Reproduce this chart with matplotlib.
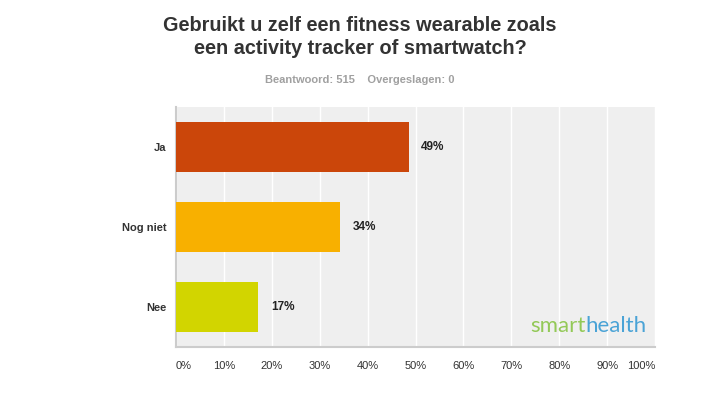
import matplotlib.pyplot as plt

# survey answers and share of respondents (%)
categories = ['Ja', 'Nog niet', 'Nee']
values = [48.6, 34.2, 17.2]
colors = ['#cb460a', '#f8b000', '#d2d500']
tick_vals = [0, 10, 20, 30, 40, 50, 60, 70, 80, 90, 100]
tick_labels = ['%d%%' % t for t in tick_vals]

plt.rcParams['font.family'] = ['Liberation Sans', 'DejaVu Sans']

fig = plt.figure(figsize=(7.2, 3.94), dpi=100)
ax = fig.add_axes([176 / 720, 47 / 394, 479 / 720, 240 / 394])
ax.set_facecolor('#efefef')

y = list(range(len(categories)))
ax.barh(y, values, height=0.625, color=colors, zorder=3)
ax.set_ylim(len(categories) - 0.5, -0.5)
ax.set_xlim(0, 100)

# value labels next to bars
for yi, v in zip(y, values):
    ax.text(v + 2.6, yi, '%d%%' % round(v), va='center', ha='left',
            fontsize=8.5, fontweight='bold', color='#222222')

ax.set_yticks(y)
ax.set_yticklabels(categories, fontsize=8, fontweight='bold', color='#333333')
ax.set_xticks(tick_vals)
ax.set_xticklabels(tick_labels, fontsize=8, color='#333333')
labels = ax.get_xticklabels()
labels[0].set_ha('left')
labels[-1].set_ha('right')
ax.tick_params(axis='both', length=0)
ax.tick_params(axis='x', pad=10)
ax.tick_params(axis='y', pad=7)

ax.grid(axis='x', color='white', linewidth=1, zorder=1)
for s in ['top', 'right']:
    ax.spines[s].set_visible(False)
ax.spines['left'].set_color('#cccccc')
ax.spines['bottom'].set_color('#cccccc')
ax.spines['left'].set_linewidth(1.5)
ax.spines['bottom'].set_linewidth(1.5)

fig.text(0.5, 1 - 37 / 394, 'Gebruikt u zelf een fitness wearable zoals\neen activity tracker of smartwatch?',
         ha='center', va='center', fontsize=14.3, fontweight='bold', color='#333333',
         linespacing=1.3)
fig.text(0.5, 1 - 80 / 394, 'Beantwoord: 515    Overgeslagen: 0', ha='center', va='center',
         fontsize=8, fontweight='bold', color='#a0a0a0')

# smarthealth logo text
logo1 = ax.text(0.74, 0.045, 'smart', transform=ax.transAxes, fontsize=16,
                family=['Lato', 'DejaVu Sans'], fontweight='normal', color='#93c957',
                ha='left', va='bottom', zorder=4)
fig.canvas.draw()
bb = logo1.get_window_extent()
x_end = ax.transAxes.inverted().transform((bb.x1, bb.y0))[0]
ax.text(x_end, 0.045, 'health', transform=ax.transAxes, fontsize=16,
        family=['Lato', 'DejaVu Sans'], fontweight='normal', color='#4aa3d6',
        ha='left', va='bottom', zorder=4)

fig.savefig('out.png', dpi=100, facecolor='white')
